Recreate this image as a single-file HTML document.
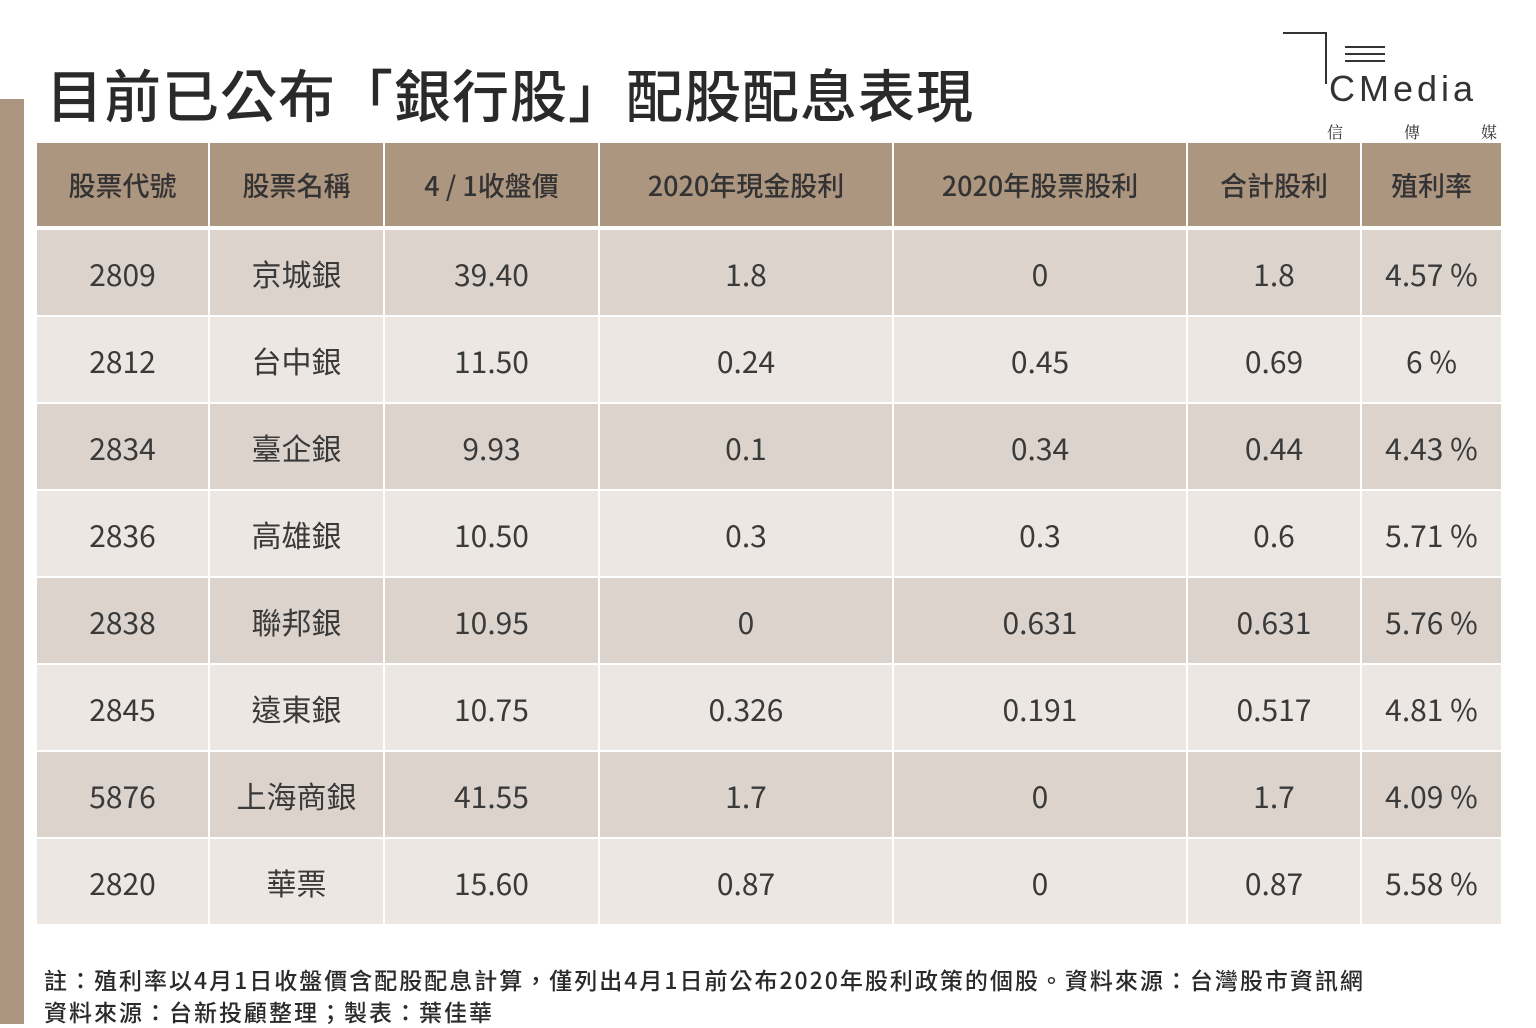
<!DOCTYPE html>
<html><head><meta charset="utf-8"><style>
body{margin:0;width:1536px;height:1024px;background:#fff;position:relative;overflow:hidden;font-family:"Liberation Sans","Noto Sans CJK TC",sans-serif;color:#333}
.bar{position:absolute;left:0;top:99px;width:24px;height:925px;background:#ab9580}
.title{position:absolute;left:46px;top:52px;font-size:57px;font-weight:500;color:#2a2a2a;letter-spacing:1px;white-space:nowrap;font-family:"Noto Sans CJK TC",sans-serif}
table{position:absolute;left:37px;top:143px;border-collapse:collapse;width:1464px}
td,th{text-align:center;border-right:2px solid #fff;padding:0;font-size:30px;font-family:"Noto Sans CJK TC",sans-serif}
th{background:#ad9680;height:83px;font-weight:500;font-size:27px;color:#333;border-bottom:4px solid #fff}
td{height:85px;border-bottom:2px solid #fff;color:#3a3a3a}
tr:nth-child(even) td{background:#dcd3cc}
tr:nth-child(odd) td{background:#ece7e3}
td:last-child,th:last-child{border-right:none}
.note{position:absolute;left:44px;font-size:23px;font-weight:500;color:#2a2a2a;white-space:nowrap;font-family:"Noto Sans CJK TC",sans-serif;letter-spacing:2px}
.logo{position:absolute;left:1283px;top:32px;width:215px;height:110px}
</style></head><body>
<div class="bar"></div>
<div class="title">目前已公布「銀行股」配股配息表現</div>
<div class="logo">
<div style="position:absolute;left:0;top:0;width:43px;height:0;border-top:2px solid #333"></div>
<div style="position:absolute;left:42px;top:0;width:0;height:52px;border-left:2px solid #333"></div>
<div style="position:absolute;left:62px;top:14px;width:40px;border-top:2px solid #333"></div>
<div style="position:absolute;left:62px;top:21px;width:40px;border-top:2px solid #333"></div>
<div style="position:absolute;left:62px;top:28px;width:40px;border-top:2px solid #333"></div>
<div style="position:absolute;left:46px;top:36px;font-size:36px;color:#333;font-family:'Liberation Sans',sans-serif;letter-spacing:4px;font-weight:300">CMedia</div>
<div style="position:absolute;left:44px;top:88px;width:170px;font-size:16px;color:#333;display:flex;justify-content:space-between;font-family:'Noto Serif CJK SC',serif"><span>信</span><span>傳</span><span>媒</span></div>
</div>
<table>
<tr><th style="width:171px">股票代號</th><th style="width:173px">股票名稱</th><th style="width:213px">4 / 1收盤價</th><th style="width:292px">2020年現金股利</th><th style="width:292px">2020年股票股利</th><th style="width:172px">合計股利</th><th>殖利率</th></tr>
<tr><td>2809</td><td>京城銀</td><td>39.40</td><td>1.8</td><td>0</td><td>1.8</td><td>4.57 %</td></tr>
<tr><td>2812</td><td>台中銀</td><td>11.50</td><td>0.24</td><td>0.45</td><td>0.69</td><td>6 %</td></tr>
<tr><td>2834</td><td>臺企銀</td><td>9.93</td><td>0.1</td><td>0.34</td><td>0.44</td><td>4.43 %</td></tr>
<tr><td>2836</td><td>高雄銀</td><td>10.50</td><td>0.3</td><td>0.3</td><td>0.6</td><td>5.71 %</td></tr>
<tr><td>2838</td><td>聯邦銀</td><td>10.95</td><td>0</td><td>0.631</td><td>0.631</td><td>5.76 %</td></tr>
<tr><td>2845</td><td>遠東銀</td><td>10.75</td><td>0.326</td><td>0.191</td><td>0.517</td><td>4.81 %</td></tr>
<tr><td>5876</td><td>上海商銀</td><td>41.55</td><td>1.7</td><td>0</td><td>1.7</td><td>4.09 %</td></tr>
<tr><td>2820</td><td>華票</td><td>15.60</td><td>0.87</td><td>0</td><td>0.87</td><td>5.58 %</td></tr>
</table>
<div class="note" style="top:962px">註：殖利率以4月1日收盤價含配股配息計算，僅列出4月1日前公布2020年股利政策的個股。資料來源：台灣股市資訊網</div>
<div class="note" style="top:994px">資料來源：台新投顧整理；製表：葉佳華</div>
</body></html>
